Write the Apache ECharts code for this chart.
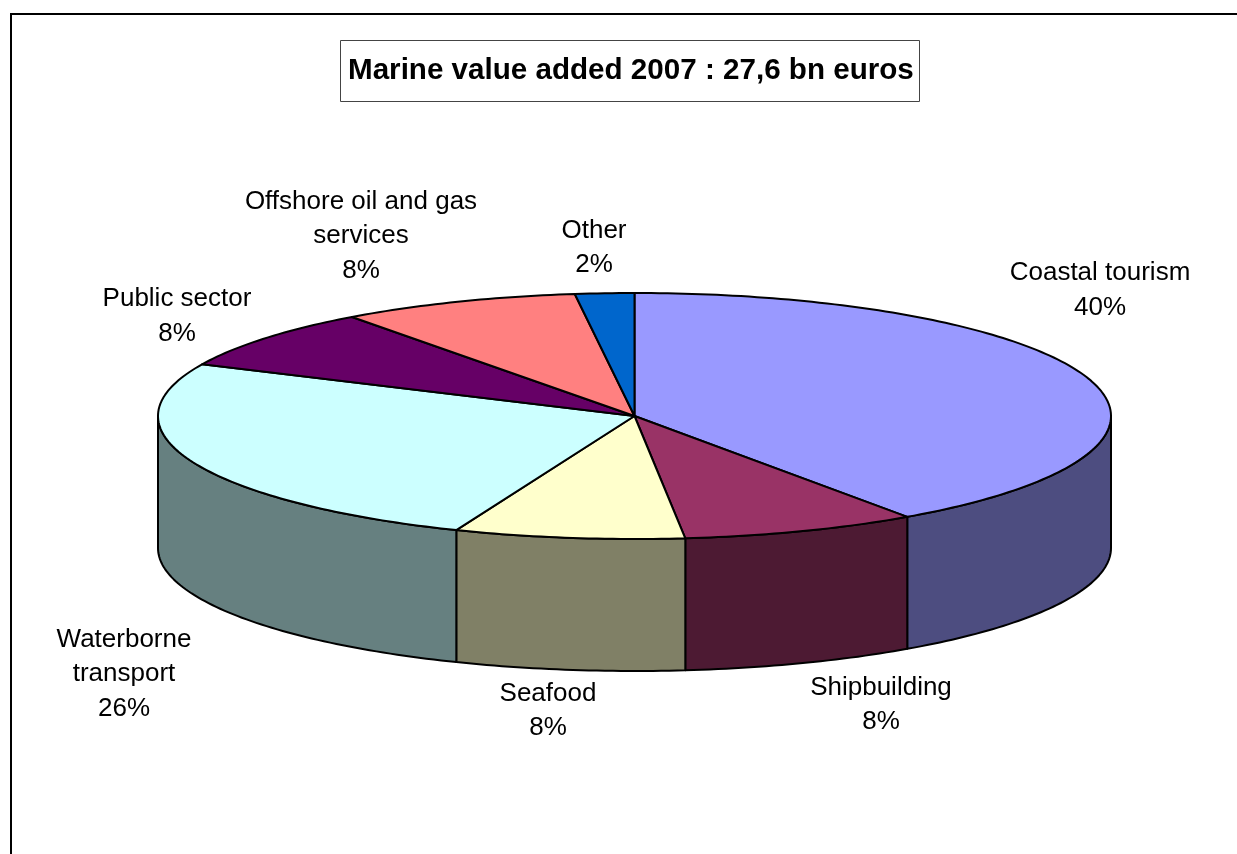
<!DOCTYPE html>
<html>
<head>
<meta charset="utf-8">
<style>html,body{margin:0;padding:0;background:#fff;overflow:hidden}#c{width:1237px;height:854px}</style>
<script src="https://cdn.jsdelivr.net/npm/echarts@6/dist/echarts.min.js"></script>
</head>
<body>
<div id="c"></div>
<script>
const titleText = 'Marine value added 2007 : 27,6 bn euros';
const categories = ['Coastal tourism','Shipbuilding','Seafood','Waterborne\ntransport','Public sector','Offshore oil and gas\nservices','Other'];
const values = [40.3, 8.0, 7.8, 25.8, 8.0, 8.1, 2.0];
const topColors = ['#9999FF','#993366','#FFFFCC','#CCFFFF','#660066','#FF8080','#0066CC'];
const sideColors = ['#4D4D80','#4D1A33','#808066','#668080','#330033','#804040','#003366'];
const labelCentres = [[1100,290.5],[881,705],[548,711],[124,674],[177,316.5],[361,236],[594,248]];

const total = values.reduce((a, b) => a + b, 0);
const depth = 132 / 123;
let run = 0;
const spans = values.map(v => { const s = [run, run + v]; run += v; return s; });

function ring(api, a0, a1, drop) {
  const pts = [], n = Math.max(2, Math.ceil((a1 - a0) / (Math.PI / 180)));
  for (let i = 0; i <= n; i++) {
    const t = a0 + (a1 - a0) * i / n;
    pts.push(api.coord([Math.sin(t), Math.cos(t) - drop]));
  }
  return pts;
}
const edge = { stroke: '#000', lineWidth: 2, lineJoin: 'round' };

function renderWall(params, api) {
  const i = params.dataIndex;
  const a0 = Math.max(api.value(0) / total * 2 * Math.PI, Math.PI / 2);
  const a1 = Math.min(api.value(1) / total * 2 * Math.PI, Math.PI * 1.5);
  if (a1 <= a0) return null;
  const pts = ring(api, a0, a1, 0).concat(ring(api, a0, a1, depth).reverse());
  return { type: 'polygon', shape: { points: pts }, style: Object.assign({ fill: sideColors[i] }, edge) };
}
function renderTop(params, api) {
  const i = params.dataIndex;
  const a0 = api.value(0) / total * 2 * Math.PI;
  const a1 = api.value(1) / total * 2 * Math.PI;
  const pts = [api.coord([0, 0])].concat(ring(api, a0, a1, 0));
  return { type: 'polygon', shape: { points: pts }, style: Object.assign({ fill: topColors[i] }, edge) };
}
function renderLabel(params, api) {
  const i = params.dataIndex;
  return {
    type: 'text',
    x: labelCentres[i][0], y: labelCentres[i][1],
    style: {
      text: categories[i] + '\n' + Math.round(values[i]) + '%',
      fill: '#000', font: '26px "Liberation Sans", Arial, sans-serif',
      lineHeight: 34.5, align: 'center', verticalAlign: 'middle'
    }
  };
}

const chart = echarts.init(document.getElementById('c'), null, { renderer: 'canvas' });
chart.setOption({
  animation: false,
  backgroundColor: '#fff',
  title: {
    text: titleText, left: 340, top: 40,
    padding: [15, 6, 16, 8],
    borderColor: '#444', borderWidth: 1, backgroundColor: '#fff',
    textStyle: { fontFamily: '"Liberation Sans", Arial, sans-serif', fontWeight: 'bold', fontSize: 29.6, color: '#000', lineHeight: 31 }
  },
  graphic: [{ type: 'rect', silent: true, z: -1, shape: { x: 11, y: 14, width: 1400, height: 1000 }, style: { fill: 'none', stroke: '#000', lineWidth: 2 } }],
  grid: { left: 158, width: 953, top: 293, height: 246 },
  xAxis: { type: 'value', min: -1, max: 1, show: false },
  yAxis: { type: 'value', min: -1, max: 1, show: false },
  tooltip: { show: false },
  series: [
    { type: 'custom', clip: false, silent: true, renderItem: renderWall, data: spans, z: 1 },
    { type: 'custom', clip: false, silent: true, renderItem: renderTop, data: spans, z: 2 },
    { type: 'custom', clip: false, silent: true, renderItem: renderLabel, data: spans, z: 3 }
  ]
});
</script>
</body>
</html>
